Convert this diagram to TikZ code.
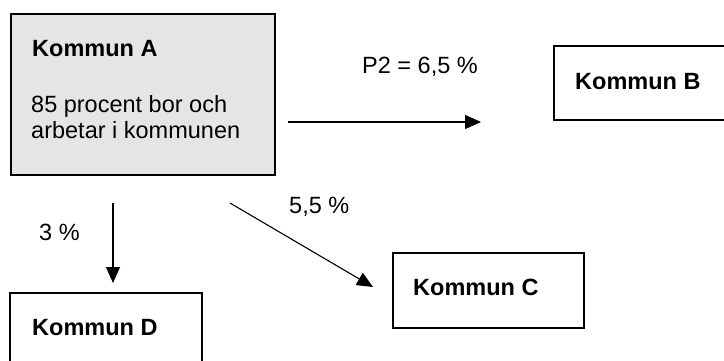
\documentclass[tikz,border=0pt]{standalone}
\usepackage{fontspec}
\setmainfont{Liberation Sans}
\usetikzlibrary{arrows.meta}
\tikzset{
  box/.style={draw=black, line width=1.5pt, inner sep=0pt, anchor=north west},
  lbl/.style={anchor=base west, inner sep=0pt, font=\fontsize{23.5}{27}\selectfont},
  blbl/.style={anchor=base west, inner sep=0pt, font=\fontsize{23.5}{27}\selectfont\bfseries},
  arr/.style={line width=1.1pt, -{Triangle[length=16pt,width=14pt]}},
}
\begin{document}
\begin{tikzpicture}[x=1pt,y=-1pt]
  \useasboundingbox (0,0) rectangle (724,360);
  % boxes
  \node[box, fill=black!10, minimum width=264pt, minimum height=161pt] (A) at (10,13) {};
  \node[box, minimum width=180pt, minimum height=74pt] (B) at (553,45) {};
  \node[box, minimum width=191pt, minimum height=75pt] (C) at (392,252) {};
  \node[box, minimum width=192pt, minimum height=90pt] (D) at (9,292) {};
  % texts
  \node[blbl] (tA) at (32,56) {Kommun A};
  \node[lbl] (tA1) at (31,112) {85 procent bor och};
  \node[lbl] (tA2) at (31,138) {arbetar i kommunen};
  \node[blbl] (tB) at (575,89) {Kommun B};
  \node[blbl] (tC) at (413,295) {Kommun C};
  \node[blbl] (tD) at (32,335) {Kommun D};
  \node[lbl] (lAB) at (362,73) {P2 = 6,5 \%};
  \node[lbl] (lAD) at (39,240) {3 \%};
  \node[lbl] (lAC) at (289,213) {5,5 \%};
  % arrow end points
  \coordinate (ab1) at (288,122);
  \coordinate (ab2) at (481,122);
  \coordinate (ad1) at (113,203);
  \coordinate (ad2) at (113,283);
  \coordinate (ac1) at (230,203);
  \coordinate (ac2) at (373,287);
  \draw[arr] (ab1) -- (ab2);
  \draw[arr] (ad1) -- (ad2);
  \draw[arr] (ac1) -- (ac2);
\end{tikzpicture}
\end{document}
